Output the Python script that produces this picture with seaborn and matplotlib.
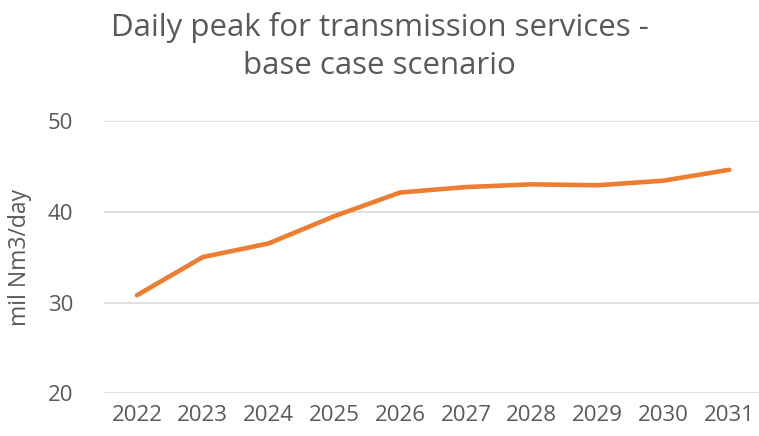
import pandas as pd
import matplotlib.pyplot as plt
import seaborn as sns

# Data
years = [2022, 2023, 2024, 2025, 2026, 2027, 2028, 2029, 2030, 2031]
peak = [30.8, 35.0, 36.5, 39.5, 42.1, 42.7, 43.0, 42.9, 43.4, 44.6]
y_ticks = [20, 30, 40, 50]

df = pd.DataFrame({'year': years, 'peak': peak})

sns.set_style('white')
plt.rcParams['font.family'] = ['Open Sans', 'DejaVu Sans']
text_grey = '#595959'

fig = plt.figure(figsize=(7.59, 4.36), dpi=100)
ax = fig.add_axes([104 / 759, 0.0975, 658 / 759, 0.6257])

sns.lineplot(data=df, x='year', y='peak', ax=ax, color='#ED7D31',
             linewidth=3.3, solid_capstyle='round', solid_joinstyle='round')

ax.set_xlim(2021.5, 2031.5)
ax.set_ylim(20, 50)
ax.set_yticks(y_ticks)
ax.set_xticks(years)
ax.set_xticklabels([str(y) for y in years])
ax.yaxis.grid(True, color='#D9D9D9', linewidth=1.2)
ax.set_axisbelow(True)
for s in ax.spines.values():
    s.set_visible(False)
ax.tick_params(axis='both', length=0, labelsize=16, colors=text_grey)
ax.tick_params(axis='y', pad=22)
ax.tick_params(axis='x', pad=8)

ax.set_xlabel('')
ax.set_ylabel('mil Nm3/day', fontsize=16.5, color=text_grey)
ax.yaxis.set_label_coords(-72 / 658, 0.5)

# Two-line centered title
fig.text(0.5, 1 - 36 / 436, 'Daily peak for transmission services -',
         ha='center', va='baseline', fontsize=22.5, color=text_grey)
fig.text(0.5, 1 - 74 / 436, 'base case scenario',
         ha='center', va='baseline', fontsize=22.5, color=text_grey)

plt.savefig('out.png', format='png', dpi=100)
